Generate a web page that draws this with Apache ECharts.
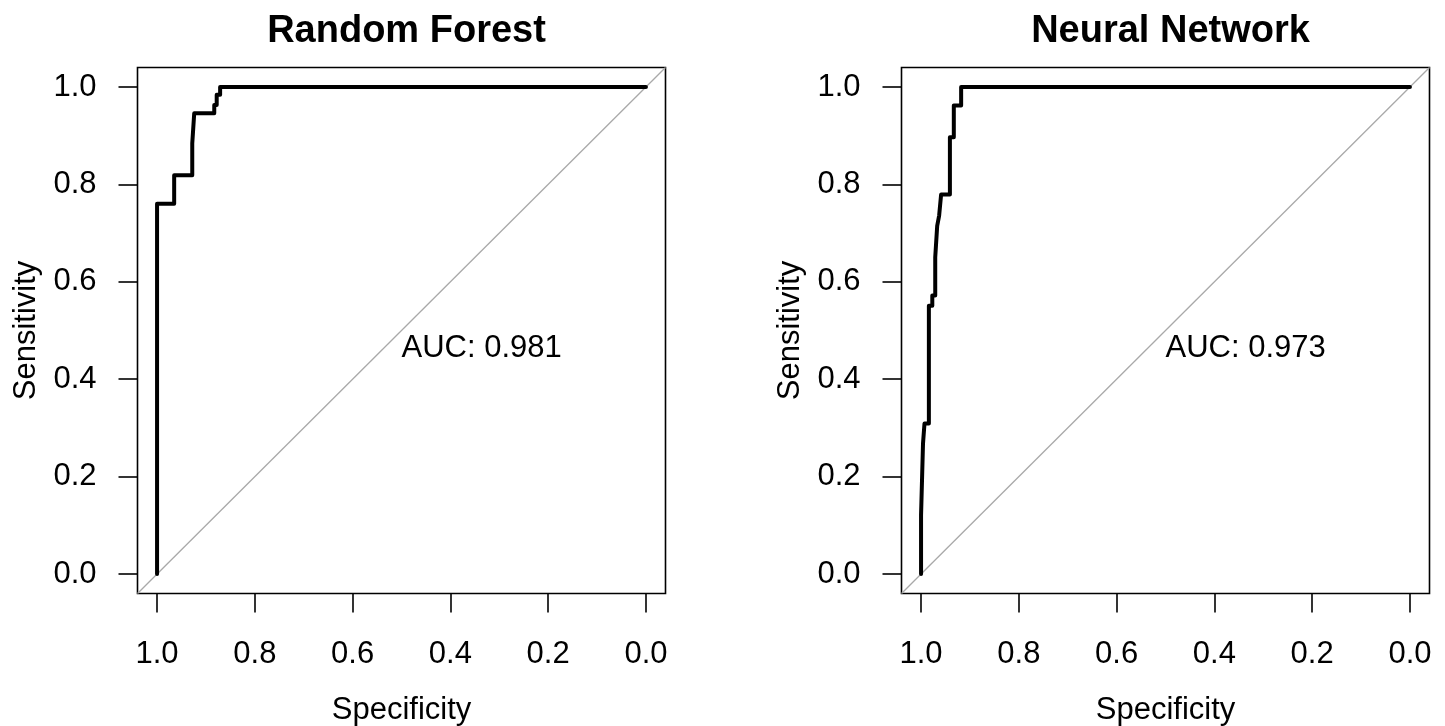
<!DOCTYPE html>
<html>
<head>
<meta charset="utf-8">
<script src="https://cdn.jsdelivr.net/npm/echarts@6/dist/echarts.min.js"></script>
<style>
  html, body { margin: 0; padding: 0; background: #fff; }
  #chart { width: 1445px; height: 726px; }
</style>
</head>
<body>
<div id="chart"></div>
<script>
// ---- data ----
const panelTitles = ['Random Forest', 'Neural Network'];
const tickValues = [0, 0.2, 0.4, 0.6, 0.8, 1.0];
const axisRange = [-0.04, 1.04];

const rfSpecificity = [1, 1, 0.965, 0.965, 0.928, 0.928, 0.924, 0.924, 0.883, 0.883, 0.878, 0.878, 0.871, 0.871, 0];
const rfSensitivity = [0, 0.760, 0.760, 0.819, 0.819, 0.884, 0.884, 0.946, 0.946, 0.963, 0.963, 0.984, 0.984, 1, 1];

const nnSpecificity = [1, 1, 0.996, 0.996, 0.993, 0.993, 0.984, 0.984, 0.977, 0.977, 0.971, 0.971, 0.967, 0.967, 0.963, 0.963, 0.959, 0.959, 0.941, 0.941, 0.933, 0.933, 0.918, 0.918, 0];
const nnSensitivity = [0, 0.121, 0.121, 0.268, 0.268, 0.309, 0.309, 0.551, 0.551, 0.572, 0.572, 0.650, 0.650, 0.715, 0.715, 0.736, 0.736, 0.779, 0.779, 0.897, 0.897, 0.962, 0.962, 1, 1];

const diagSpecificity = [1.04, -0.04];
const diagSensitivity = [-0.04, 1.04];

const aucLabels = ['AUC: 0.981', 'AUC: 0.973'];
const aucPosition = [0.5, 0.5];

// ---- chart ----
const FONT = '"Liberation Sans", Arial, sans-serif';
const LABEL_SIZE = 31;
const zip = (a, b) => a.map((v, i) => [v, b[i]]);

const gridLeft = [137.5, 901.5];
const grids = gridLeft.map(l => ({
  left: l, top: 67.5, width: 528, height: 526,
  containLabel: false, outerBoundsMode: 'none',
  show: true, borderColor: '#000', borderWidth: 1.6, backgroundColor: 'transparent'
}));

const xAxes = [0, 1].map(i => ({
  type: 'value', gridIndex: i, inverse: true, position: 'bottom',
  min: axisRange[0], max: axisRange[1],
  name: 'Specificity', nameLocation: 'middle', nameGap: 117,
  nameTextStyle: { fontFamily: FONT, fontSize: LABEL_SIZE, color: '#000', verticalAlign: 'middle' },
  axisLine: { show: false, onZero: false },
  splitLine: { show: false },
  axisTick: { show: true, inside: false, length: 19, customValues: tickValues, lineStyle: { color: '#000', width: 1.6 } },
  axisLabel: {
    show: true, customValues: tickValues, margin: 61, verticalAlign: 'middle',
    fontFamily: FONT, fontSize: LABEL_SIZE, color: '#000',
    formatter: v => Number(v).toFixed(1)
  }
}));

const yAxes = [0, 1].map(i => ({
  type: 'value', gridIndex: i, position: 'left',
  min: axisRange[0], max: axisRange[1],
  name: 'Sensitivity', nameLocation: 'middle', nameGap: 111, nameRotate: 90,
  nameTextStyle: { fontFamily: FONT, fontSize: LABEL_SIZE, color: '#000', verticalAlign: 'middle' },
  axisLine: { show: false, onZero: false },
  splitLine: { show: false },
  axisTick: { show: true, inside: false, length: 19, customValues: tickValues, lineStyle: { color: '#000', width: 1.6 } },
  axisLabel: {
    show: true, customValues: tickValues, margin: 41,
    fontFamily: FONT, fontSize: LABEL_SIZE, color: '#000',
    formatter: v => Number(v).toFixed(1)
  }
}));

const curves = [zip(rfSpecificity, rfSensitivity), zip(nnSpecificity, nnSensitivity)];
const series = [];
[0, 1].forEach(i => {
  series.push({
    type: 'line', xAxisIndex: i, yAxisIndex: i, silent: true,
    data: zip(diagSpecificity, diagSensitivity), showSymbol: false, symbol: 'none',
    lineStyle: { color: '#a9a9a9', width: 1.3 }, z: 2
  });
  series.push({
    type: 'line', xAxisIndex: i, yAxisIndex: i, silent: true,
    data: curves[i], showSymbol: false, symbol: 'none',
    lineStyle: { color: '#000', width: 4, cap: 'round', join: 'round' }, z: 3
  });
  series.push({
    type: 'scatter', xAxisIndex: i, yAxisIndex: i, silent: true,
    data: [aucPosition], symbolSize: 0.01, itemStyle: { color: '#000', opacity: 1 },
    label: {
      show: true, position: [0, 0], align: 'left', verticalAlign: 'top',
      formatter: aucLabels[i], fontFamily: FONT, fontSize: LABEL_SIZE, color: '#000',
      opacity: 1, textBorderWidth: 0, offset: [0, 2]
    }, z: 4
  });
});

const chart = echarts.init(document.getElementById('chart'), null, { renderer: 'canvas' });
chart.setOption({
  animation: false,
  backgroundColor: '#fff',
  title: panelTitles.map((t, i) => ({
    text: t, left: gridLeft[i] + 264, top: 8, textAlign: 'center',
    textStyle: { fontFamily: FONT, fontSize: 38, fontWeight: 'bold', color: '#000' }
  })),
  grid: grids,
  xAxis: xAxes,
  yAxis: yAxes,
  series: series
});
</script>
</body>
</html>
